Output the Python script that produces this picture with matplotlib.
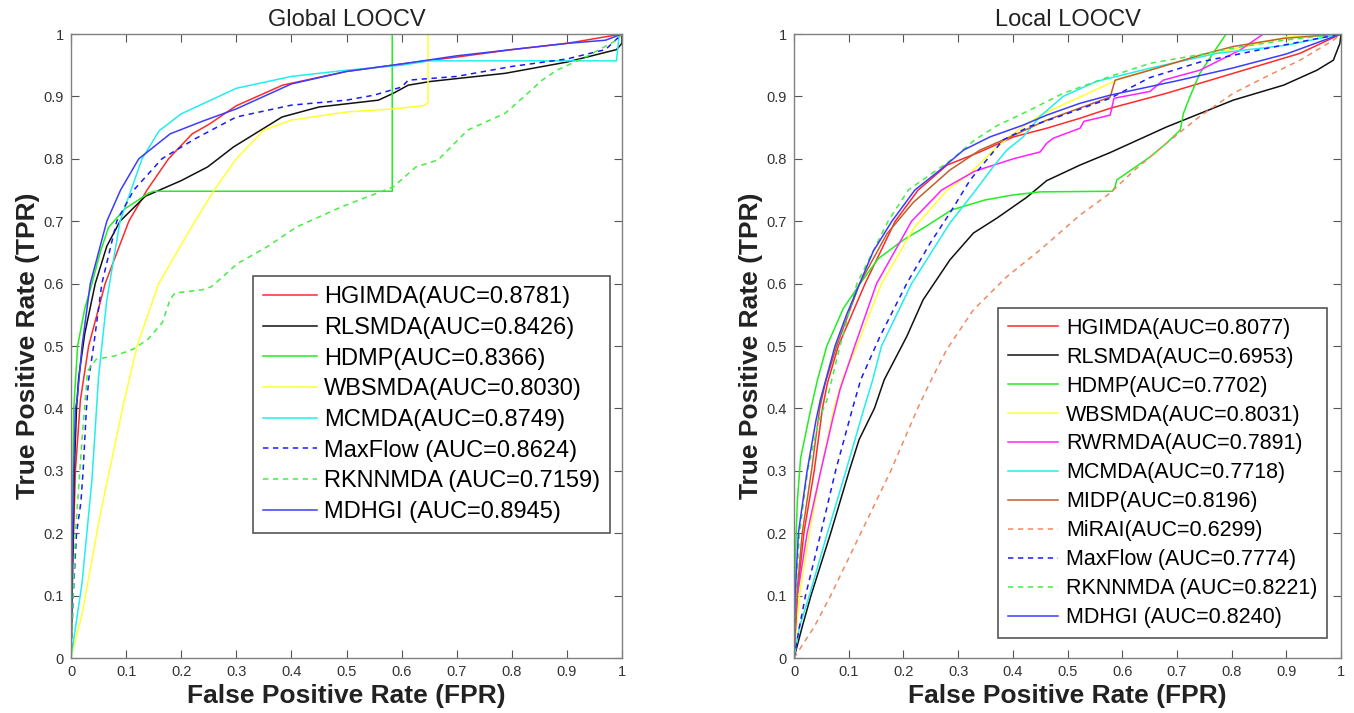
import matplotlib
matplotlib.use("Agg")
import matplotlib.pyplot as plt

plt.rcParams['font.family'] = ['Liberation Sans', 'DejaVu Sans']

# ---------------- Global LOOCV data ----------------
gl_labels = ["HGIMDA(AUC=0.8781)", "RLSMDA(AUC=0.8426)", "HDMP(AUC=0.8366)",
             "WBSMDA(AUC=0.8030)", "MCMDA(AUC=0.8749)", "MaxFlow (AUC=0.8624)",
             "RKNNMDA (AUC=0.7159)", "MDHGI (AUC=0.8945)"]

gl_hgimda_x = [0, 0.003, 0.008, 0.017, 0.032, 0.062, 0.105, 0.138, 0.177, 0.22, 0.25, 0.3, 0.384, 0.5, 0.6, 0.7, 0.8, 0.9, 1]
gl_hgimda_y = [0, 0.15, 0.3, 0.413, 0.5, 0.6, 0.7, 0.75, 0.8, 0.84, 0.855, 0.885, 0.918, 0.94, 0.952, 0.963, 0.975, 0.985, 1]

gl_rlsmda_x = [0, 0.003, 0.006, 0.01, 0.014, 0.025, 0.044, 0.065, 0.089, 0.135, 0.2, 0.248, 0.295, 0.383, 0.45, 0.558, 0.585, 0.612, 0.653, 0.788, 0.9, 0.99, 1, 1]
gl_rlsmda_y = [0, 0.15, 0.3, 0.4, 0.45, 0.52, 0.6, 0.66, 0.7, 0.74, 0.765, 0.787, 0.819, 0.867, 0.883, 0.894, 0.905, 0.918, 0.924, 0.937, 0.955, 0.975, 0.985, 1]

gl_hdmp_x = [0, 0.002, 0.005, 0.012, 0.025, 0.038, 0.053, 0.068, 0.098, 0.141, 0.15, 0.583, 0.583, 1]
gl_hdmp_y = [0, 0.2, 0.4, 0.5, 0.56, 0.6, 0.65, 0.69, 0.72, 0.745, 0.748, 0.748, 1.0, 1]

gl_wbsmda_x = [0, 0.02, 0.053, 0.096, 0.12, 0.159, 0.225, 0.26, 0.3, 0.35, 0.4, 0.5, 0.585, 0.64, 0.648, 0.648, 1]
gl_wbsmda_y = [0, 0.07, 0.23, 0.41, 0.5, 0.6, 0.7, 0.75, 0.8, 0.846, 0.862, 0.875, 0.88, 0.885, 0.89, 1.0, 1]

gl_mcmda_x = [0, 0.02, 0.038, 0.05, 0.056, 0.065, 0.089, 0.129, 0.16, 0.2, 0.3, 0.4, 0.5, 0.6, 0.65, 0.99, 0.995, 1]
gl_mcmda_y = [0, 0.12, 0.285, 0.45, 0.5, 0.574, 0.7, 0.8, 0.845, 0.872, 0.913, 0.932, 0.942, 0.95, 0.957, 0.957, 1.0, 1]

gl_maxflow_x = [0, 0.004, 0.01, 0.018, 0.022, 0.028, 0.032, 0.041, 0.056, 0.083, 0.114, 0.165, 0.225, 0.3, 0.4, 0.5, 0.55, 0.6, 0.612, 0.7, 0.8, 0.9, 0.97, 1]
gl_maxflow_y = [0, 0.1, 0.2, 0.25, 0.3, 0.4, 0.446, 0.5, 0.6, 0.7, 0.75, 0.8, 0.832, 0.867, 0.886, 0.894, 0.902, 0.915, 0.926, 0.932, 0.948, 0.96, 0.975, 1]

gl_rknnmda_x = [0, 0.008, 0.02, 0.03, 0.046, 0.079, 0.113, 0.14, 0.166, 0.18, 0.189, 0.238, 0.255, 0.302, 0.356, 0.41, 0.491, 0.585, 0.626, 0.666, 0.72, 0.788, 0.815, 0.855, 0.882, 0.936, 0.99, 1]
gl_rknnmda_y = [0, 0.2, 0.35, 0.46, 0.479, 0.484, 0.495, 0.511, 0.538, 0.575, 0.585, 0.59, 0.595, 0.632, 0.659, 0.691, 0.723, 0.755, 0.787, 0.798, 0.846, 0.873, 0.894, 0.926, 0.942, 0.964, 0.99, 1]

gl_mdhgi_x = [0, 0.002, 0.005, 0.008, 0.011, 0.02, 0.035, 0.065, 0.09, 0.123, 0.18, 0.238, 0.3, 0.4, 0.5, 0.6, 0.7, 0.8, 0.9, 0.97, 1]
gl_mdhgi_y = [0, 0.15, 0.3, 0.4, 0.413, 0.5, 0.6, 0.7, 0.75, 0.8, 0.84, 0.86, 0.88, 0.92, 0.94, 0.952, 0.965, 0.975, 0.985, 0.99, 1]

# ---------------- Local LOOCV data ----------------
lo_labels = ["HGIMDA(AUC=0.8077)", "RLSMDA(AUC=0.6953)", "HDMP(AUC=0.7702)",
             "WBSMDA(AUC=0.8031)", "RWRMDA(AUC=0.7891)", "MCMDA(AUC=0.7718)",
             "MIDP(AUC=0.8196)", "MiRAI(AUC=0.6299)", "MaxFlow (AUC=0.7774)",
             "RKNNMDA (AUC=0.8221)", "MDHGI (AUC=0.8240)"]

lo_hgimda_x = [0, 0.006, 0.018, 0.037, 0.052, 0.061, 0.081, 0.13, 0.185, 0.227, 0.28, 0.34, 0.401, 0.462, 0.523, 0.578, 0.681, 0.803, 0.925, 1]
lo_hgimda_y = [0, 0.1, 0.2, 0.3, 0.4, 0.44, 0.5, 0.6, 0.7, 0.75, 0.79, 0.811, 0.835, 0.849, 0.865, 0.881, 0.905, 0.937, 0.969, 1]

lo_rlsmda_x = [0, 0.015, 0.031, 0.067, 0.101, 0.119, 0.147, 0.165, 0.206, 0.236, 0.285, 0.328, 0.371, 0.425, 0.462, 0.523, 0.578, 0.681, 0.803, 0.895, 0.956, 0.986, 0.998, 1]
lo_rlsmda_y = [0, 0.05, 0.1, 0.2, 0.3, 0.35, 0.4, 0.446, 0.515, 0.574, 0.638, 0.681, 0.705, 0.738, 0.765, 0.79, 0.81, 0.851, 0.894, 0.918, 0.942, 0.958, 0.985, 1]

lo_hdmp_x = [0, 0.002, 0.006, 0.012, 0.031, 0.043, 0.06, 0.09, 0.121, 0.154, 0.2, 0.24, 0.288, 0.349, 0.4, 0.45, 0.582, 0.587, 0.59, 0.608, 0.651, 0.681, 0.706, 0.712, 0.724, 0.742, 0.766, 0.79, 1]
lo_hdmp_y = [0, 0.15, 0.25, 0.32, 0.4, 0.446, 0.5, 0.56, 0.6, 0.64, 0.67, 0.691, 0.718, 0.734, 0.742, 0.747, 0.748, 0.755, 0.766, 0.777, 0.803, 0.825, 0.846, 0.873, 0.9, 0.937, 0.969, 1.0, 1]

lo_wbsmda_x = [0, 0.01, 0.028, 0.049, 0.073, 0.09, 0.115, 0.16, 0.22, 0.28, 0.32, 0.36, 0.4, 0.45, 0.5, 0.55, 0.6, 0.7, 0.8, 0.9, 1]
lo_wbsmda_y = [0, 0.1, 0.2, 0.3, 0.4, 0.45, 0.5, 0.6, 0.69, 0.75, 0.775, 0.81, 0.84, 0.87, 0.89, 0.91, 0.93, 0.955, 0.975, 0.995, 1]

lo_rwrmda_x = [0, 0.006, 0.024, 0.049, 0.07, 0.084, 0.111, 0.151, 0.215, 0.27, 0.33, 0.401, 0.45, 0.462, 0.474, 0.523, 0.53, 0.578, 0.585, 0.651, 0.675, 0.742, 0.815, 0.858, 1]
lo_rwrmda_y = [0, 0.1, 0.2, 0.3, 0.38, 0.43, 0.5, 0.6, 0.7, 0.75, 0.78, 0.8, 0.811, 0.825, 0.833, 0.849, 0.86, 0.87, 0.897, 0.908, 0.926, 0.942, 0.974, 1.0, 1]

lo_mcmda_x = [0, 0.01, 0.028, 0.061, 0.095, 0.128, 0.144, 0.16, 0.215, 0.285, 0.328, 0.364, 0.389, 0.419, 0.45, 0.492, 0.553, 0.65, 0.773, 0.9, 1]
lo_mcmda_y = [0, 0.05, 0.1, 0.2, 0.3, 0.4, 0.446, 0.5, 0.6, 0.697, 0.745, 0.787, 0.814, 0.835, 0.868, 0.9, 0.924, 0.945, 0.969, 0.982, 1]

lo_midp_x = [0, 0.005, 0.015, 0.032, 0.047, 0.057, 0.078, 0.12, 0.17, 0.218, 0.285, 0.34, 0.4, 0.462, 0.578, 0.587, 0.651, 0.742, 0.803, 0.895, 1]
lo_midp_y = [0, 0.1, 0.2, 0.3, 0.4, 0.44, 0.5, 0.6, 0.68, 0.73, 0.782, 0.814, 0.837, 0.862, 0.899, 0.926, 0.942, 0.966, 0.98, 0.993, 1]

lo_mirai_x = [0, 0.037, 0.067, 0.122, 0.177, 0.226, 0.251, 0.279, 0.328, 0.389, 0.45, 0.523, 0.578, 0.62, 0.681, 0.742, 0.803, 0.864, 0.925, 0.986, 1]
lo_mirai_y = [0, 0.05, 0.1, 0.2, 0.3, 0.4, 0.446, 0.494, 0.558, 0.611, 0.654, 0.71, 0.745, 0.78, 0.825, 0.868, 0.905, 0.932, 0.958, 0.99, 1]

lo_maxflow_x = [0, 0.01, 0.021, 0.049, 0.076, 0.107, 0.122, 0.157, 0.206, 0.249, 0.285, 0.322, 0.352, 0.382, 0.431, 0.492, 0.578, 0.65, 0.742, 0.864, 1]
lo_maxflow_y = [0, 0.05, 0.1, 0.2, 0.3, 0.4, 0.446, 0.515, 0.6, 0.665, 0.713, 0.766, 0.798, 0.83, 0.852, 0.87, 0.897, 0.93, 0.955, 0.977, 1]

lo_rknnmda_x = [0, 0.003, 0.01, 0.025, 0.045, 0.06, 0.084, 0.115, 0.172, 0.209, 0.29, 0.33, 0.371, 0.431, 0.492, 0.578, 0.651, 0.742, 0.8, 0.895, 1]
lo_rknnmda_y = [0, 0.1, 0.2, 0.3, 0.38, 0.413, 0.5, 0.6, 0.7, 0.75, 0.8, 0.83, 0.853, 0.878, 0.905, 0.932, 0.953, 0.967, 0.977, 0.99, 1]

lo_mdhgi_x = [0, 0.002, 0.008, 0.024, 0.04, 0.048, 0.075, 0.096, 0.12, 0.145, 0.179, 0.221, 0.267, 0.31, 0.358, 0.419, 0.462, 0.523, 0.578, 0.7, 0.8, 0.9, 1]
lo_mdhgi_y = [0, 0.1, 0.2, 0.3, 0.38, 0.413, 0.5, 0.55, 0.6, 0.652, 0.7, 0.75, 0.782, 0.814, 0.835, 0.854, 0.87, 0.889, 0.902, 0.925, 0.945, 0.968, 1]

ticks = [0, 0.1, 0.2, 0.3, 0.4, 0.5, 0.6, 0.7, 0.8, 0.9, 1]
tick_labels = ["0", "0.1", "0.2", "0.3", "0.4", "0.5", "0.6", "0.7", "0.8", "0.9", "1"]

# styles
C_RED = '#ff2a2a'
C_BLK = '#111111'
C_GRN = '#22ee22'
C_YEL = '#ffff33'
C_CYN = '#22eeee'
C_BLU = '#1a1aff'
C_GDS = '#44ee44'
C_MDH = '#3c3cff'
C_MAG = '#ff22ff'
C_BRN = '#c0602a'
C_ORG = '#f08a60'
LW = 1.1
DASH = (3.5, 3.0)

fig = plt.figure(figsize=(13.54, 7.13), dpi=100)
ax1 = fig.add_axes([71/1354, 55/713, 551/1354, 624/713])
ax2 = fig.add_axes([794/1354, 55/713, 547/1354, 624/713])

def style_axes(ax, title):
    ax.set_xlim(0, 1)
    ax.set_ylim(0, 1)
    ax.set_xticks(ticks)
    ax.set_yticks(ticks)
    ax.set_xticklabels(tick_labels)
    ax.set_yticklabels(tick_labels)
    ax.tick_params(direction='in', length=5.5, width=0.8, colors='#555555',
                   labelcolor='#333333', labelsize=10.5, top=True, right=True, pad=5)
    for s in ax.spines.values():
        s.set_color('#808080')
        s.set_linewidth(1.0)
    ax.set_title(title, fontsize=17, color='#222222', pad=6)
    ax.set_xlabel('False Positive Rate (FPR)', fontsize=19, fontweight='bold', color='#222222', labelpad=4)
    ax.set_ylabel('True Positive Rate (TPR)', fontsize=19, fontweight='bold', color='#222222', labelpad=3)

# Global
ax1.plot(gl_hgimda_x, gl_hgimda_y, color=C_RED, lw=LW, label=gl_labels[0])
ax1.plot(gl_rlsmda_x, gl_rlsmda_y, color=C_BLK, lw=LW, label=gl_labels[1])
ax1.plot(gl_hdmp_x, gl_hdmp_y, color=C_GRN, lw=LW, label=gl_labels[2])
ax1.plot(gl_wbsmda_x, gl_wbsmda_y, color=C_YEL, lw=LW, label=gl_labels[3])
ax1.plot(gl_mcmda_x, gl_mcmda_y, color=C_CYN, lw=LW, label=gl_labels[4])
ax1.plot(gl_maxflow_x, gl_maxflow_y, color=C_BLU, lw=LW, dashes=DASH, label=gl_labels[5])
ax1.plot(gl_rknnmda_x, gl_rknnmda_y, color=C_GDS, lw=LW, dashes=DASH, label=gl_labels[6])
ax1.plot(gl_mdhgi_x, gl_mdhgi_y, color=C_MDH, lw=LW, label=gl_labels[7])
style_axes(ax1, 'Global LOOCV')
leg1 = ax1.legend(loc='upper left', bbox_to_anchor=(0.33, 0.612), borderaxespad=0,
                  fontsize=17, handlelength=2.3, handletextpad=0.3, labelspacing=0.37,
                  borderpad=0.42, fancybox=False, framealpha=1, edgecolor='#555555')
leg1.get_frame().set_linewidth(1.2)

# Local
ax2.plot(lo_hgimda_x, lo_hgimda_y, color=C_RED, lw=LW, label=lo_labels[0])
ax2.plot(lo_rlsmda_x, lo_rlsmda_y, color=C_BLK, lw=LW, label=lo_labels[1])
ax2.plot(lo_hdmp_x, lo_hdmp_y, color=C_GRN, lw=LW, label=lo_labels[2])
ax2.plot(lo_wbsmda_x, lo_wbsmda_y, color=C_YEL, lw=LW, label=lo_labels[3])
ax2.plot(lo_rwrmda_x, lo_rwrmda_y, color=C_MAG, lw=LW, label=lo_labels[4])
ax2.plot(lo_mcmda_x, lo_mcmda_y, color=C_CYN, lw=LW, label=lo_labels[5])
ax2.plot(lo_midp_x, lo_midp_y, color=C_BRN, lw=LW, label=lo_labels[6])
ax2.plot(lo_mirai_x, lo_mirai_y, color=C_ORG, lw=LW, dashes=DASH, label=lo_labels[7])
ax2.plot(lo_maxflow_x, lo_maxflow_y, color=C_BLU, lw=LW, dashes=DASH, label=lo_labels[8])
ax2.plot(lo_rknnmda_x, lo_rknnmda_y, color=C_GDS, lw=LW, dashes=DASH, label=lo_labels[9])
ax2.plot(lo_mdhgi_x, lo_mdhgi_y, color=C_MDH, lw=LW, label=lo_labels[10])
style_axes(ax2, 'Local LOOCV')
leg2 = ax2.legend(loc='upper left', bbox_to_anchor=(0.373, 0.561), borderaxespad=0,
                  fontsize=15.5, handlelength=2.35, handletextpad=0.35, labelspacing=0.37,
                  borderpad=0.45, fancybox=False, framealpha=1, edgecolor='#555555')
leg2.get_frame().set_linewidth(1.2)

fig.savefig('out.png', dpi=100)
